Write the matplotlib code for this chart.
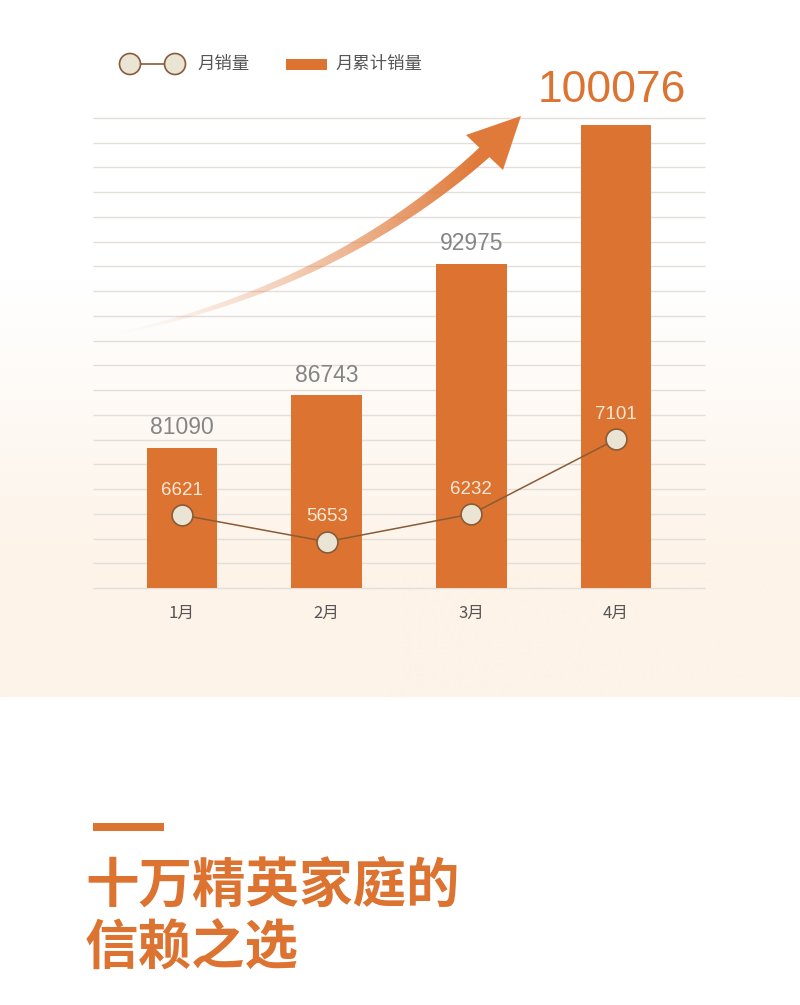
import numpy as np
import matplotlib
matplotlib.use("Agg")
import matplotlib.pyplot as plt
from matplotlib.patches import Polygon, Circle, Rectangle

plt.rcParams["font.family"] = ["Noto Sans CJK SC", "DejaVu Sans"]

# data
months = ["1月", "2月", "3月", "4月"]
cum_sales = [81090, 86743, 92975, 100076]
monthly_sales = [6621, 5653, 6232, 7101]
# the source chart is not drawn to scale: heights in grid steps
bar_heights = [5.66, 7.80, 13.10, 18.71]
dot_heights = [2.95, 1.87, 2.99, 6.01]
n_grid = 19

ORANGE = "#DC7331"
ARROW = "#E07A3A"
BROWN = "#8A5B36"
DOT_FACE = "#EAE4D5"
GREY_TXT = "#858585"
NUM_FONT = ["Liberation Sans", "Noto Sans CJK SC"]

W, H = 800, 1005
fig = plt.figure(figsize=(W / 100, H / 100), dpi=100)


def overlay(z):
    a = fig.add_axes([0, 0, 1, 1], zorder=z)
    a.axis("off")
    a.patch.set_alpha(0)
    return a


def fix_limits(a):
    a.set_xlim(0, W)
    a.set_ylim(H, 0)


# background: white fading into light peach, ending at y=697
bg = overlay(0)
ys = np.arange(0, 698)
t = np.clip((ys - 280) / 290.0, 0, 1)[:, None]
white = np.array([1.0, 1.0, 1.0])
peach = np.array([253, 243, 232]) / 255
grad = (white * (1 - t) + peach * t)[:, None, :]
bg.imshow(grad, extent=(0, W, 697, 0), aspect="auto", interpolation="bilinear")
fix_limits(bg)

# main chart
ax = fig.add_axes([93 / W, (H - 588) / H, 612 / W, 470 / H], zorder=1)
ax.patch.set_alpha(0)
x = np.arange(len(months))
ax.set_xlim(-0.615, 3.615)
ax.set_ylim(0, n_grid)
ax.hlines(np.arange(n_grid + 1), -0.615, 3.615, color="#E2DEDA", lw=1, zorder=0, clip_on=False)

ax.bar(x, bar_heights, width=0.49, color=ORANGE, zorder=2)
for i, (h, v) in enumerate(zip(bar_heights, cum_sales)):
    if i == len(cum_sales) - 1:
        ax.annotate(f"{v}", (x[i], h), xytext=(-3, 25), textcoords="offset points",
                    ha="center", va="center", fontsize=32, color=ORANGE,
                    family=NUM_FONT, annotation_clip=False)
    else:
        ax.annotate(f"{v}", (x[i], h), xytext=(0, 14.4), textcoords="offset points",
                    ha="center", va="center", fontsize=16.5, color=GREY_TXT,
                    family=NUM_FONT)

ax.plot(x, dot_heights, color=BROWN, lw=1.1, zorder=3)
ax.plot(x, dot_heights, "o", ms=15, mfc=DOT_FACE, mec=BROWN, mew=1.2, zorder=4)
for xi, h, v in zip(x, dot_heights, monthly_sales):
    ax.annotate(f"{v}", (xi, h), xytext=(0, 18), textcoords="offset points",
                ha="center", va="center", fontsize=13.5, color="#F8E9D6", family=NUM_FONT)

ax.set_xticks(x)
ax.set_xticklabels(months, fontsize=12, color="#555555")
ax.tick_params(axis="x", length=0, pad=12)
ax.set_yticks([])
for s in ax.spines.values():
    s.set_visible(False)

# decorations on top
top = overlay(2)

# rising arrow: tapered shaft filled with a fading gradient, solid head
p0, p1, p2 = np.array([120, 333]), np.array([340, 285]), np.array([487, 150])
tt = np.linspace(0, 1, 300)[:, None]
pts = (1 - tt) ** 2 * p0 + 2 * (1 - tt) * tt * p1 + tt ** 2 * p2
d = np.gradient(pts, axis=0)
d /= np.linalg.norm(d, axis=1, keepdims=True)
nrm = np.column_stack([-d[:, 1], d[:, 0]])
hw = 1.0 + 6.0 * tt
shaft = np.vstack([pts + nrm * hw, (pts - nrm * hw)[::-1]])
shaft_patch = Polygon(shaft, closed=True, facecolor="none", edgecolor="none")
top.add_patch(shaft_patch)
x0, x1, y0, y1 = 110, 500, 120, 345
xs = np.linspace(0, 1, 400)
img = np.zeros((2, len(xs), 4))
img[..., :3] = matplotlib.colors.to_rgb(ARROW)
img[..., 3] = np.clip(xs ** 1.4 * 1.1, 0, 1)
im = top.imshow(img, extent=(x0, x1, y1, y0), aspect="auto", interpolation="bilinear")
im.set_clip_path(shaft_patch)
top.add_patch(Polygon([[521, 116], [466, 135], [503, 170]], closed=True, color=ARROW, lw=0))

# legend
top.plot([130, 175], [64, 64], color=BROWN, lw=1.2)
for cx in (130, 175):
    top.add_patch(Circle((cx, 64), 10.5, facecolor=DOT_FACE, edgecolor=BROWN, lw=1.2, zorder=3))
top.text(197, 64, "月销量", fontsize=12.5, color="#555555", va="center", ha="left")
top.add_patch(Rectangle((286, 59), 41, 11, color=ORANGE, lw=0))
top.text(335, 64, "月累计销量", fontsize=12.5, color="#555555", va="center", ha="left")

# headline
top.add_patch(Rectangle((93, 823), 71, 8, color=ORANGE, lw=0))
top.text(85, 886, "十万精英家庭的", fontsize=38.5, fontweight="bold", color=ORANGE,
         va="center", ha="left")
top.text(85, 949, "信赖之选", fontsize=38.5, fontweight="bold", color=ORANGE,
         va="center", ha="left")
fix_limits(top)

fig.savefig("out.png", dpi=100)
